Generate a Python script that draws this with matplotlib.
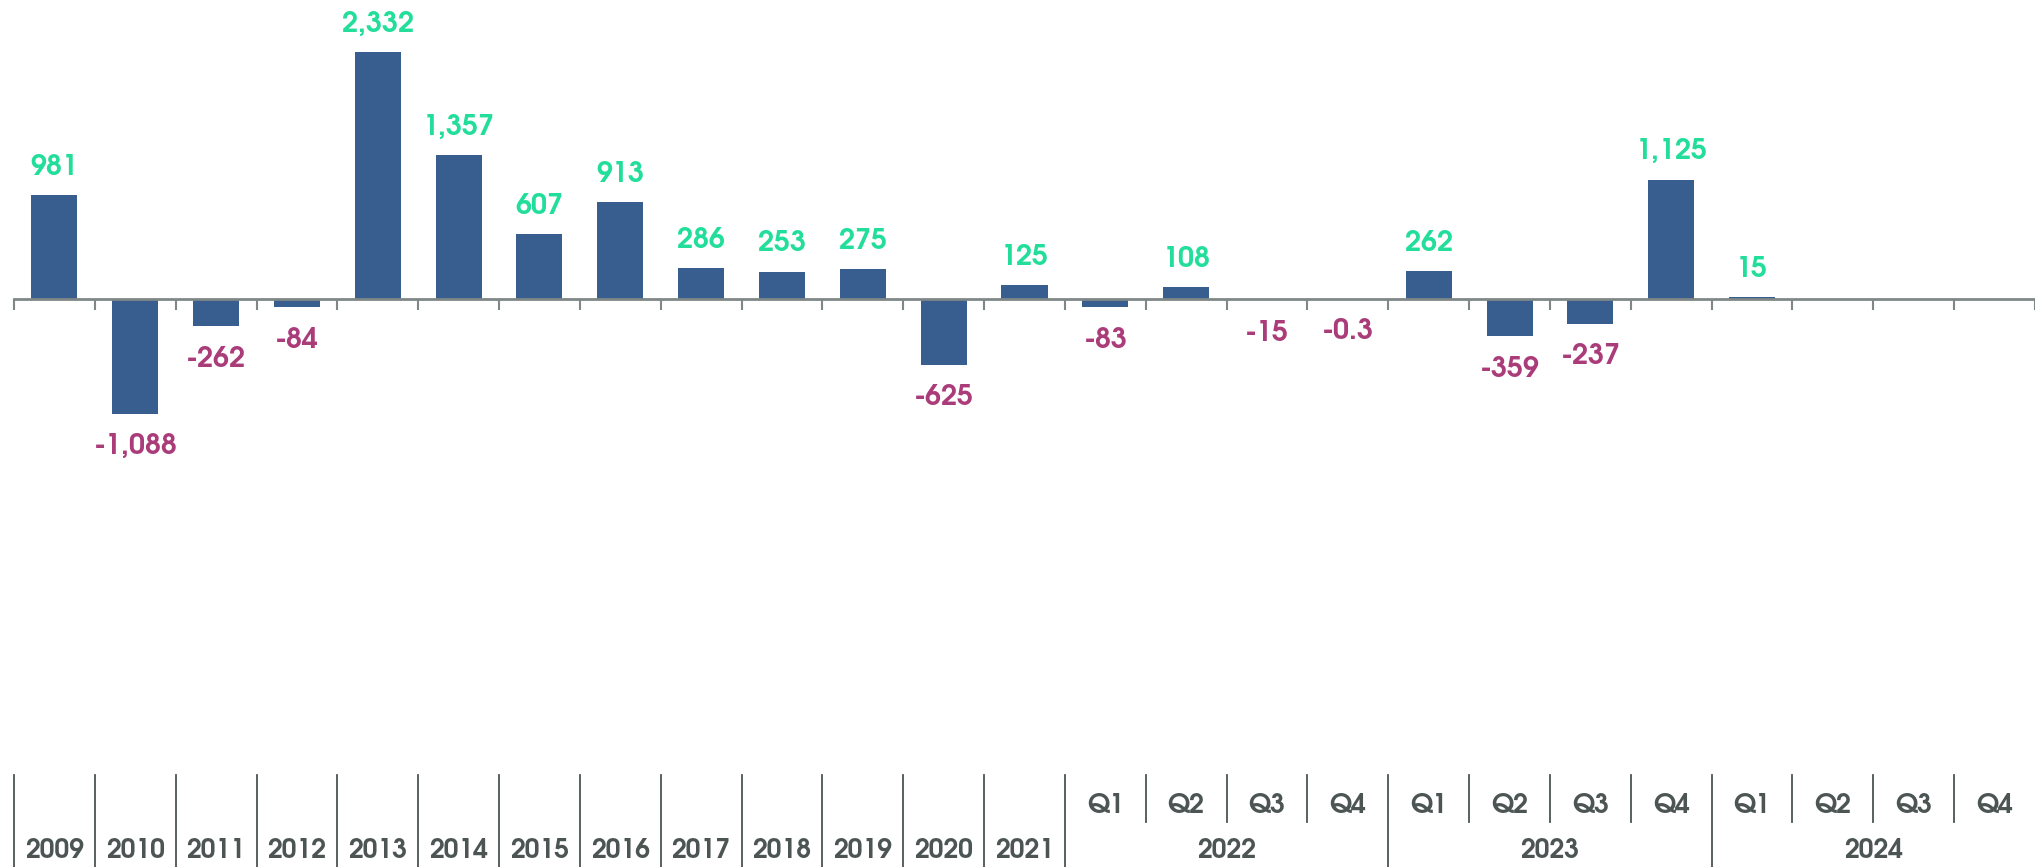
import numpy as np
import matplotlib
matplotlib.use("Agg")
import matplotlib.pyplot as plt
import matplotlib.transforms as mtransforms

# annual values, then quarters of 2022-2024
years = ['2009', '2010', '2011', '2012', '2013', '2014', '2015', '2016',
         '2017', '2018', '2019', '2020', '2021']
year_values = [981, -1088, -262, -84, 2332, 1357, 607, 913, 286, 253, 275, -625, 125]

quarter_years = ['2022', '2023', '2024']
quarters = ['Q1', 'Q2', 'Q3', 'Q4']
quarter_values = [-83, 108, -15, -0.3,
                  262, -359, -237, 1125,
                  15, np.nan, np.nan, np.nan]

values = year_values + quarter_values
n = len(values)
x = np.arange(n)

BAR = '#375e8f'
POS = '#22de9a'
NEG = '#ab3c7a'
GREY = '#4c5454'
FONT = 'TeX Gyre Adventor'

fig = plt.figure(figsize=(20.35, 8.67), dpi=100)
ax = fig.add_axes([14 / 2035, 0, 1 - 14 / 2035, 1])
ax.set_xlim(-0.5, n - 0.5)
ax.set_ylim(-5378, 2824)

ax.bar(x, values, width=0.57, color=BAR, zorder=2)

# value labels
for xi, v in zip(x, values):
    if np.isnan(v):
        continue
    txt = f'{v:,.0f}' if abs(v) >= 1 else f'{v:.1f}'
    if v >= 0:
        ax.annotate(txt, (xi, v), xytext=(0, 11), textcoords='offset points',
                    ha='center', va='bottom', color=POS, fontsize=20.5,
                    fontweight='bold', family=FONT)
    else:
        ax.annotate(txt, (xi, v), xytext=(0, -14), textcoords='offset points',
                    ha='center', va='top', color=NEG, fontsize=20.5,
                    fontweight='bold', family=FONT)

# zero axis with ticks hanging down at the category boundaries
for s in ['top', 'right', 'left']:
    ax.spines[s].set_visible(False)
ax.spines['bottom'].set_position(('data', 0))
ax.spines['bottom'].set_color('#7f8787')
ax.spines['bottom'].set_linewidth(2)
ax.set_xticks(np.arange(n + 1) - 0.5)
ax.set_xticklabels([])
ax.tick_params(axis='x', direction='out', length=8, width=1.5, color='#7f8787')
ax.set_yticks([])

# multi-level category labels at the bottom
trans = mtransforms.blended_transform_factory(ax.transData, ax.transAxes)
top, mid = 0.106, 0.052
lab = dict(transform=trans, ha='center', va='center', color=GREY,
           fontsize=19, fontweight='bold', family=FONT)
for i, y in enumerate(years):
    ax.text(i, 0.019, y, **lab)
    ax.plot([i - 0.5, i - 0.5], [0, top], transform=trans, color=GREY,
            lw=1.3, clip_on=False)

start = len(years)
for g, qy in enumerate(quarter_years):
    g0 = start + g * 4
    ax.plot([g0 - 0.5, g0 - 0.5], [0, top], transform=trans, color=GREY,
            lw=1.3, clip_on=False)
    ax.text(g0 + 1.5, 0.019, qy, **lab)
    for k, q in enumerate(quarters):
        ax.text(g0 + k, 0.0715, q, **lab)
        if k > 0:
            ax.plot([g0 + k - 0.5, g0 + k - 0.5], [mid, top], transform=trans,
                    color=GREY, lw=1.3, clip_on=False)

fig.savefig('out.png', dpi=100, facecolor='white')
